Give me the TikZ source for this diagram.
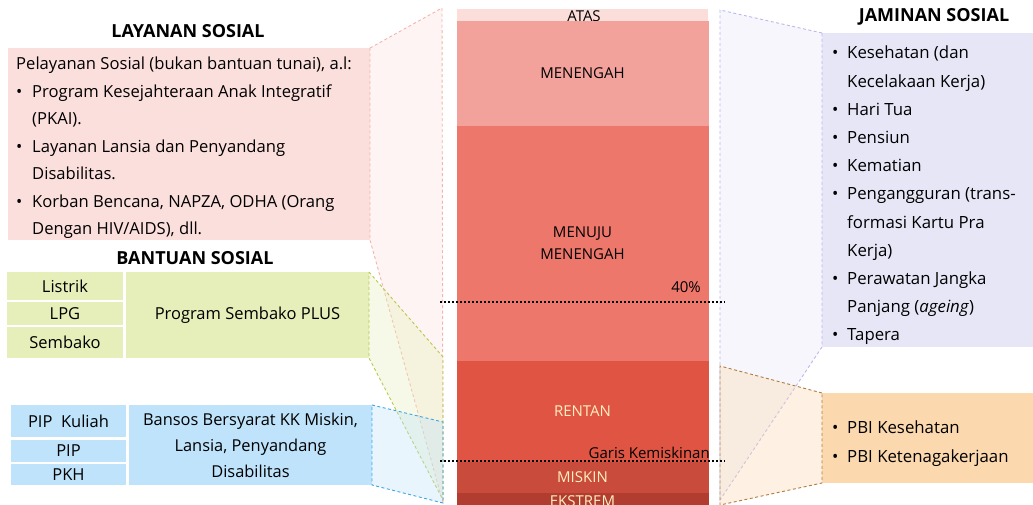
\documentclass[tikz,border=0pt]{standalone}
\usepackage{fontspec}
\setmainfont{Open Sans}
\definecolor{cAtas}{HTML}{FBDDDA}
\definecolor{cMen}{HTML}{F2A19B}
\definecolor{cMenuju}{HTML}{EE776C}
\definecolor{cRentan}{HTML}{E05443}
\definecolor{cMiskin}{HTML}{C84B3B}
\definecolor{cEks}{HTML}{B13D31}
\definecolor{cBandTxt}{HTML}{FFF0C0}
\definecolor{cPink}{HTML}{FBDFDC}
\definecolor{cGreen}{HTML}{E6EEB9}
\definecolor{cBlue}{HTML}{BEE3FA}
\definecolor{cLav}{HTML}{E7E6F7}
\definecolor{cOrange}{HTML}{FBD8AE}
\definecolor{dPink}{HTML}{F4B3AC}
\definecolor{dGreen}{HTML}{B8C94F}
\definecolor{dBlue}{HTML}{3FA6E6}
\definecolor{dLav}{HTML}{B8B8EC}
\definecolor{dOrange}{HTML}{B07B3E}
\newcommand{\bul}{\makebox[16pt][l]{\textbullet}}
\newcommand{\ind}{\hspace*{16pt}}
\newcommand{\bulr}{\makebox[15pt][l]{\textbullet}}
\newcommand{\indr}{\hspace*{15pt}}
\tikzset{
  box/.style={inner sep=0pt, outer sep=0pt, anchor=north west, text=black, font=\fontsize{16.5pt}{19pt}\selectfont},
  band/.style={inner sep=0pt, outer sep=0pt, anchor=north west, minimum width=252pt, font=\fontsize{15pt}{22pt}\selectfont, align=center},
  title/.style={font=\bfseries\fontsize{18pt}{21pt}\selectfont, inner sep=0pt},
  zoomarea/.style={line width=0.9pt, dash pattern=on 3pt off 2.5pt, fill opacity=0.35},
  dotline/.style={line width=2pt, dash pattern=on 2pt off 2pt, black},
  small/.style={font=\fontsize{15pt}{18pt}\selectfont, inner sep=0pt}
}
\begin{document}
\begin{tikzpicture}[x=1pt,y=-1pt]
\useasboundingbox (0,0) rectangle (1033,505);

% ---- left boxes
\node[box, fill=cPink, minimum width=362pt, minimum height=192pt] (lay) at (8,48) {};
\node[anchor=base west, inner sep=0pt] (layt) at (16,70) {\begin{minipage}[t]{352pt}\fontsize{16.6pt}{27.5pt}\selectfont\raggedright
Pelayanan Sosial (bukan bantuan tunai), a.l:\\
\bul Program Kesejahteraan Anak Integratif\\
\ind (PKAI).\\
\bul Layanan Lansia dan Penyandang\\
\ind Disabilitas.\\
\bul Korban Bencana, NAPZA, ODHA (Orang\\
\ind Dengan HIV/AIDS), dll.\end{minipage}};
\node[title] (layttl) at (188,31) {LAYANAN SOSIAL};
\node[title] (banttl) at (195,258) {BANTUAN SOSIAL};

\node[box, fill=cGreen, minimum width=116pt, minimum height=28pt] (listrik) at (7,272) {Listrik};
\node[box, fill=cGreen, minimum width=116pt, minimum height=23pt] (lpg) at (7,302) {LPG};
\node[box, fill=cGreen, minimum width=116pt, minimum height=31pt] (sembako) at (7,327) {Sembako};
\node[box, fill=cGreen, minimum width=243pt, minimum height=86pt] (plus) at (126,272) {Program Sembako PLUS};

\node[box, fill=cBlue, minimum width=115pt, minimum height=32pt] (pipk) at (11,405) {PIP~~Kuliah};
\node[box, fill=cBlue, minimum width=115pt, minimum height=22pt] (pip) at (11,440) {PIP};
\node[box, fill=cBlue, minimum width=115pt, minimum height=21pt] (pkh) at (11,464) {PKH};
\node[box, fill=cBlue, minimum width=243pt, minimum height=80pt, align=center, font=\fontsize{16.4pt}{26pt}\selectfont] (bansos) at (129,405) {Bansos Bersyarat KK Miskin,\\Lansia, Penyandang\\Disabilitas};

% ---- right boxes
\node[box, fill=cLav, minimum width=211pt, minimum height=314pt] (jam) at (822,33) {};
\node[anchor=base west, inner sep=0pt] (jamt) at (832,59) {\begin{minipage}[t]{200pt}\fontsize{16.8pt}{28.2pt}\selectfont\raggedright
\bulr Kesehatan (dan\\
\indr Kecelakaan Kerja)\\
\bulr Hari Tua\\
\bulr Pensiun\\
\bulr Kematian\\
\bulr Pengangguran (trans-\\
\indr formasi Kartu Pra\\
\indr Kerja)\\
\bulr Perawatan Jangka\\
\indr Panjang (\textit{ageing})\\
\bulr Tapera\end{minipage}};
\node[title] (jamttl) at (934,17) {JAMINAN SOSIAL};

\node[box, fill=cOrange, minimum width=211pt, minimum height=90pt] (pbi) at (822,393) {};
\node[anchor=base west, inner sep=0pt] (pbit) at (832,433) {\begin{minipage}[t]{200pt}\fontsize{16.8pt}{29pt}\selectfont\raggedright
\bulr PBI Kesehatan\\
\bulr PBI Ketenagakerjaan\end{minipage}};

% ---- zoom areas
\coordinate (pT) at (442,8);
\coordinate (pB) at (443,503);
\filldraw[zoomarea, draw=dPink, fill=cPink] (lay.north east) -- (pT) -- (pB) -- (lay.south east) -- cycle;
\coordinate (gT) at (443,357);
\coordinate (gB) at (443,500);
\filldraw[zoomarea, draw=dGreen, fill=cGreen] (plus.north east) -- (gT) -- (gB) -- (plus.south east) -- cycle;
\coordinate (bT) at (443,422);
\coordinate (bB) at (443,503);
\filldraw[zoomarea, draw=dBlue, fill=cBlue] (bansos.north east) -- (bT) -- (bB) -- (bansos.south east) -- cycle;
\coordinate (lT) at (720,10);
\coordinate (lB) at (720,500);
\filldraw[zoomarea, draw=dLav, fill=cLav] (jam.north west) -- (lT) -- (lB) -- (jam.south west) -- cycle;
\coordinate (oT) at (720,366);
\coordinate (oB) at (720,505);
\filldraw[zoomarea, draw=dOrange, fill=cOrange] (pbi.north west) -- (oT) -- (oB) -- (pbi.south west) -- cycle;

% ---- central column
\node[band, fill=cAtas, minimum width=251pt, minimum height=12pt] (atas) at (457,9) {};
\node[small] (atast) at (584,16) {ATAS};
\node[band, fill=cMen, minimum height=105pt] (men) at (456.5,21) {MENENGAH};
\node[band, fill=cMenuju, minimum height=235pt] (menuju) at (456.5,126) {MENUJU\\MENENGAH};
\node[band, fill=cRentan, minimum height=101pt, text=cBandTxt] (rentan) at (456.5,361) {RENTAN};
\node[band, fill=cMiskin, minimum height=31pt, text=cBandTxt] (miskin) at (456.5,462) {MISKIN};
\node[band, fill=cEks, minimum height=16pt, text=cBandTxt] (eks) at (456.5,493) {EKSTREM};

% ---- lines
\coordinate (d1a) at (440,302);
\coordinate (d1b) at (725,302);
\draw[dotline] (d1a) -- (d1b);
\node[small] (pct) at (686,287) {40\%};
\coordinate (d2a) at (440,461);
\coordinate (d2b) at (725,461);
\draw[dotline] (d2a) -- (d2b);
\node[small, anchor=east] (garis) at (710,453) {Garis Kemiskinan};
\end{tikzpicture}
\end{document}
